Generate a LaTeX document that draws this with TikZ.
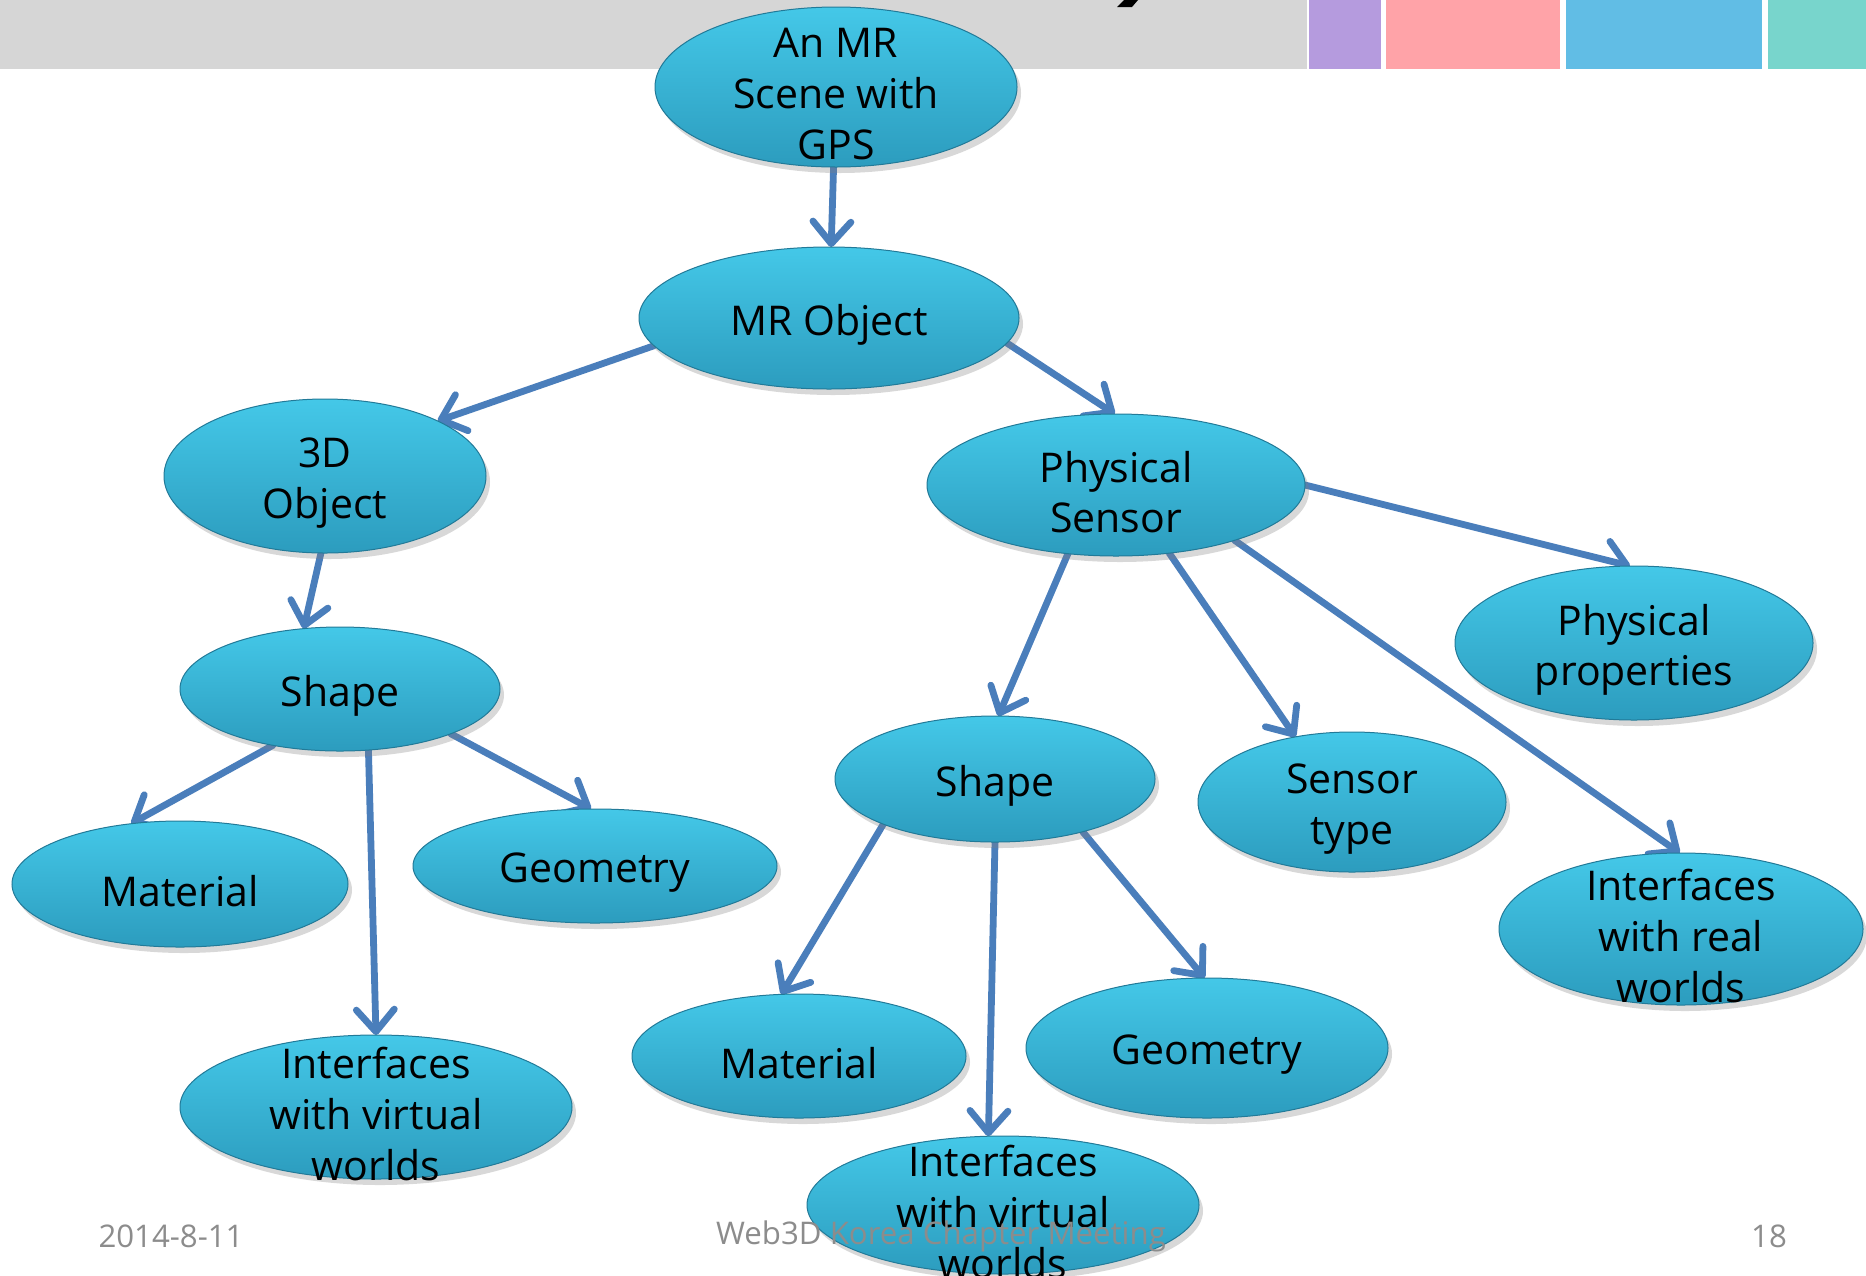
\documentclass[tikz,border=0pt]{standalone}
\usepackage{fontspec}
\setmainfont{Open Sans}
\usetikzlibrary{shapes.geometric,shadows,arrows.meta,backgrounds}
\definecolor{linkblue}{RGB}{74,126,187}
\definecolor{blobtop}{RGB}{68,200,232}
\definecolor{blobbot}{RGB}{44,156,190}
\definecolor{blobedge}{RGB}{34,122,152}
\definecolor{bargray}{RGB}{214,214,214}
\definecolor{barpurple}{RGB}{181,155,222}
\definecolor{barpink}{RGB}{255,163,168}
\definecolor{barblue}{RGB}{97,189,229}
\definecolor{barteal}{RGB}{120,213,204}
\definecolor{footgray}{RGB}{140,140,140}
\tikzset{
  blob/.style={ellipse, draw=blobedge, line width=0.5pt, top color=blobtop, bottom color=blobbot,
    drop shadow={opacity=0.3,shadow xshift=2pt,shadow yshift=-3pt}, inner sep=0pt, outer sep=0pt},
  txt/.style={font=\fontsize{20.5}{25.3}\selectfont, align=center, text=black, yshift=-3.5pt},
  link/.style={draw=linkblue, line width=3.4pt, line cap=round, -{Straight Barb[length=11pt,width=19pt,round]}},
  foot/.style={font=\fontsize{15.6}{18}\selectfont, text=footgray},
}
\begin{document}
\begin{tikzpicture}[x=0.5pt,y=-0.5pt]
\useasboundingbox (0,0) rectangle (1866,1275);

\node[blob, minimum width=181pt, minimum height=80pt, label={[txt]center:An MR\\Scene with\\GPS}] (gps) at (836,87) {};
\node[blob, minimum width=190pt, minimum height=71pt, label={[txt]center:MR Object}] (mro) at (829,318) {};
\node[blob, minimum width=161pt, minimum height=77pt, label={[txt]center:3D\\Object}] (obj) at (325,476) {};
\node[blob, minimum width=189pt, minimum height=71pt, label={[txt]center:Physical\\Sensor}] (ps) at (1116,485) {};
\node[blob, minimum width=179pt, minimum height=77pt, label={[txt]center:Physical\\properties}] (pp) at (1634,643) {};
\node[blob, minimum width=160pt, minimum height=62pt, label={[txt]center:Shape}] (shl) at (340,689) {};
\node[blob, minimum width=168pt, minimum height=63pt, label={[txt]center:Material}] (matl) at (180,884) {};
\node[blob, minimum width=182pt, minimum height=57pt, label={[txt]center:Geometry}] (geol) at (595,866) {};
\node[blob, minimum width=196pt, minimum height=72pt, label={[txt]center:Interfaces\\with virtual\\worlds}] (ivl) at (376,1107) {};
\node[blob, minimum width=160pt, minimum height=63pt, label={[txt]center:Shape}] (shr) at (995,779) {};
\node[blob, minimum width=154pt, minimum height=70pt, label={[txt]center:Sensor\\type}] (st) at (1352,802) {};
\node[blob, minimum width=182pt, minimum height=76pt, label={[txt]center:Interfaces\\with real\\worlds}] (ir) at (1681,929) {};
\node[blob, minimum width=167pt, minimum height=62pt, label={[txt]center:Material}] (matr) at (799,1056) {};
\node[blob, minimum width=181pt, minimum height=70pt, label={[txt]center:Geometry}] (geor) at (1207,1048) {};
\node[blob, minimum width=196pt, minimum height=69pt, label={[txt]center:Interfaces\\with virtual\\worlds}] (ivb) at (1003,1205) {};

\begin{pgfonlayer}{background}
\fill[white] (0,0) rectangle (1866,1275);
\fill[bargray] (0,0) rectangle (1307,69);
\fill[barpurple] (1309,0) rectangle (1381,69);
\fill[barpink] (1386,0) rectangle (1560,69);
\fill[barblue] (1566,0) rectangle (1762,69);
\fill[barteal] (1768,0) rectangle (1866,69);
\fill[black] (1124,0) -- (1138,0) -- (1132,7) -- (1117,7) -- cycle;

\draw[link] (gps) -- (mro);
\draw[link] (mro.189) -- (obj.26);
\draw[link] (mro.-8) -- (ps.91);
\draw[link] (obj.-93) -- (shl.121);
\draw[link] (shl.220) -- (matl.129);
\draw[link] (shl.-65) -- (ivl.90);
\draw[link] (shl.-22) -- (geol.94);
\draw[link] (ps.0) -- (pp.93);
\draw[link] (ps.-125) -- (shr.87);
\draw[link] (ps.-52) -- (st.131);
\draw[link] (ps.-25) -- (ir.91);
\draw[link] (shr.202) -- (matr.106);
\draw[link] (shr.-90) -- (ivb.102);
\draw[link] (shr.-31) -- (geor.92);
\end{pgfonlayer}

\node[foot] (date) at (171,1236) {2014-8-11};
\node[foot] (meet) at (941,1236) {Web3D Korea Chapter Meeting};
\node[foot] (page) at (1769,1236) {18};
\end{tikzpicture}
\end{document}
